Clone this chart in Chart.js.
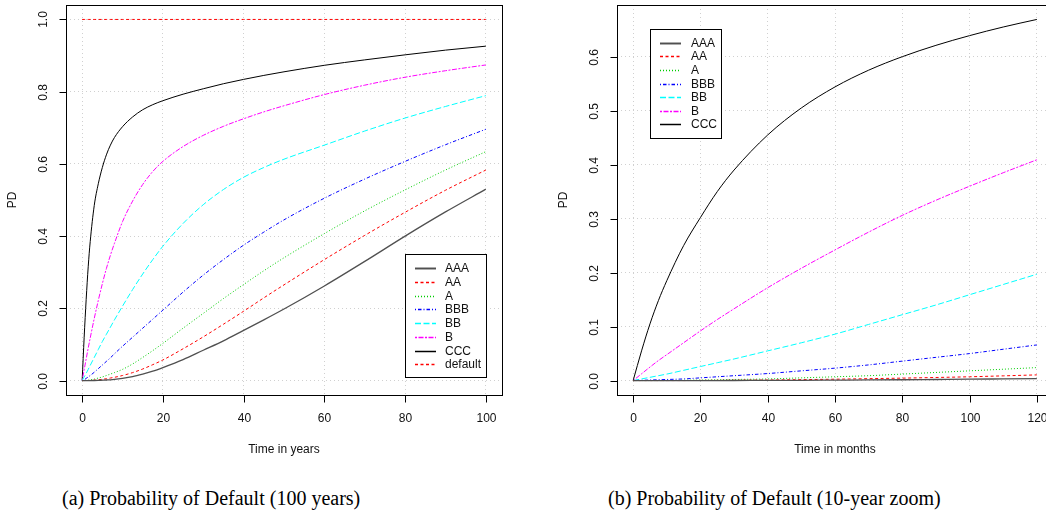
<!DOCTYPE html>
<html><head><meta charset="utf-8">
<script src="https://cdn.jsdelivr.net/npm/chart.js@4/dist/chart.umd.min.js"></script>
<style>
html,body{margin:0;padding:0;background:#fff;overflow:hidden;width:1046px;height:522px;position:relative}
canvas{position:absolute;top:0}
#c1{left:0}
#c2{left:523px}
.cap{position:absolute;top:486px;font-family:"Liberation Serif","DejaVu Serif",serif;font-size:20px;color:#000;white-space:nowrap;line-height:24px}
#capA{left:62px}
#capB{left:608px}
</style></head><body>
<canvas id="c1" width="523" height="470"></canvas>
<canvas id="c2" width="540" height="470"></canvas>
<div class="cap" id="capA">(a) Probability of Default (100 years)</div>
<div class="cap" id="capB">(b) Probability of Default (10-year zoom)</div>
<script>
// ---------- data: panel (a), time in years ----------
const yearsX = [0,0.5,1,1.5,2,3,4,5,6,7,8,10,12.5,15,17.5,20,25,30,35,40,45,50,60,70,80,90,100];
const yAAA = [0,0,0,0,0,0.0002,0.0005,0.001,0.0015,0.002,0.003,0.006,0.011,0.018,0.026,0.036,0.058,0.084,0.11,0.139,0.168,0.198,0.262,0.33,0.40,0.467,0.53];
const yAA  = [0,0,0,0.0003,0.0005,0.001,0.002,0.0035,0.005,0.007,0.009,0.014,0.022,0.032,0.044,0.057,0.088,0.121,0.156,0.192,0.229,0.265,0.335,0.402,0.466,0.527,0.583];
const yA   = [0,0,0.0005,0.001,0.002,0.004,0.007,0.01,0.014,0.018,0.022,0.031,0.046,0.064,0.083,0.103,0.145,0.186,0.227,0.266,0.304,0.34,0.407,0.47,0.528,0.583,0.634];
const yBBB = [0,0.002,0.006,0.01,0.014,0.023,0.033,0.043,0.053,0.063,0.074,0.095,0.12,0.145,0.17,0.195,0.245,0.292,0.335,0.375,0.411,0.445,0.505,0.558,0.607,0.653,0.696];
const yBB  = [0,0.01,0.02,0.031,0.042,0.064,0.086,0.108,0.128,0.148,0.168,0.206,0.252,0.295,0.335,0.372,0.435,0.487,0.529,0.563,0.59,0.613,0.652,0.691,0.727,0.759,0.789];
const yB   = [0,0.03,0.06,0.09,0.118,0.172,0.222,0.268,0.31,0.347,0.38,0.44,0.497,0.543,0.579,0.607,0.648,0.679,0.704,0.725,0.744,0.761,0.792,0.818,0.84,0.858,0.874];
const yCCC = [0,0.12,0.225,0.315,0.385,0.485,0.545,0.59,0.625,0.652,0.673,0.703,0.73,0.75,0.764,0.775,0.793,0.808,0.822,0.834,0.845,0.855,0.873,0.888,0.902,0.915,0.926];
const yDefault = [1,1,1,1,1,1,1,1,1,1,1,1,1,1,1,1,1,1,1,1,1,1,1,1,1,1,1];

// ---------- data: panel (b), time in months ----------
const monthsX = [0,2.5,5,7.5,10,15,20,25,30,40,50,60,70,80,90,100,110,120];
const mAAA = [0,0,0,0,0,0,0,0,0.0001,0.0003,0.0005,0.0008,0.0011,0.0015,0.002,0.0025,0.0031,0.0037];
const mAA  = [0,0,0,0,0,0,0.0003,0.0004,0.0006,0.001,0.0017,0.0025,0.0035,0.0045,0.0057,0.007,0.0087,0.0105];
const mA   = [0,0,0,0,0,0.0005,0.001,0.0015,0.002,0.003,0.005,0.007,0.009,0.012,0.015,0.018,0.021,0.024];
const mBBB = [0,0.0005,0.001,0.0015,0.002,0.003,0.005,0.007,0.009,0.013,0.018,0.023,0.029,0.036,0.043,0.05,0.058,0.066];
const mBB  = [0,0.003,0.006,0.009,0.012,0.019,0.026,0.033,0.04,0.055,0.07,0.086,0.104,0.122,0.14,0.159,0.178,0.197];
const mB   = [0,0.0125,0.025,0.037,0.048,0.07,0.092,0.113,0.133,0.172,0.208,0.242,0.275,0.306,0.334,0.36,0.385,0.409];
const mCCC = [0,0.055,0.105,0.148,0.185,0.25,0.302,0.35,0.39,0.455,0.505,0.544,0.575,0.60,0.621,0.639,0.655,0.669];

// ---------- labels & ticks ----------
const seriesNamesA = ["AAA","AA","A","BBB","BB","B","CCC","default"];
const seriesNamesB = ["AAA","AA","A","BBB","BB","B","CCC"];
const xTicksA = [0,20,40,60,80,100];
const yTicksA = [0,0.2,0.4,0.6,0.8,1.0];
const yTickLabelsA = ["0.0","0.2","0.4","0.6","0.8","1.0"];
const xTicksB = [0,20,40,60,80,100,120];
const yTicksB = [0,0.1,0.2,0.3,0.4,0.5,0.6];
const yTickLabelsB = ["0.0","0.1","0.2","0.3","0.4","0.5","0.6"];
const xTitleA = "Time in years";
const xTitleB = "Time in months";
const yTitle = "PD";

// ---------- styles ----------
const lineColors = ["#505050","#FF0000","#00CD00","#0000FF","#00FFFF","#FF00FF","#000000","#FF0000"];
const lineDashes = [[],[3,2.5],[1,2],[1,2,3.5,2],[6,2.5],[2,1.5,5,1.5],[],[3,2.5]];
const lineWidths = [1.3,1,1,1,1,1,1,1];
const FONT = '"Liberation Sans", Arial, Helvetica, sans-serif';

function buildDatasets(xs, series, names){
  return series.map((ys,i)=>({
    label: names[i],
    data: xs.map((x,j)=>({x:x, y:ys[j]})),
    borderColor: lineColors[i],
    borderDash: lineDashes[i],
    borderWidth: lineWidths[i],
    pointRadius: 0,
    fill: false,
    cubicInterpolationMode: 'monotone'
  }));
}

function rPlot(cfg){
  return {
    id: 'rPlot',
    afterDraw(chart){
      const ctx = chart.ctx, a = chart.chartArea, xs = chart.scales.x, ys = chart.scales.y;
      ctx.save();
      ctx.setLineDash([]);
      ctx.strokeStyle = '#000'; ctx.lineWidth = 1;
      const L = Math.round(a.left)+0.5, T = Math.round(a.top)+0.5, R = Math.round(a.right)+0.5, B = Math.round(a.bottom)+0.5;
      ctx.strokeRect(L, T, R-L, B-T);
      ctx.fillStyle = '#111';
      ctx.font = '12px ' + FONT;
      ctx.textAlign = 'center'; ctx.textBaseline = 'middle';
      cfg.xTicks.forEach((v)=>{
        const px = Math.round(xs.getPixelForValue(v))+0.5;
        ctx.beginPath(); ctx.moveTo(px, B); ctx.lineTo(px, B+7); ctx.stroke();
        ctx.fillText(String(v), px, B+23);
      });
      cfg.yTicks.forEach((v,i)=>{
        const py = Math.round(ys.getPixelForValue(v))+0.5;
        ctx.beginPath(); ctx.moveTo(L, py); ctx.lineTo(L-7, py); ctx.stroke();
        ctx.save(); ctx.translate(L-23, py); ctx.rotate(-Math.PI/2);
        ctx.fillText(cfg.yLabels[i], 0, 0); ctx.restore();
      });
      ctx.fillText(cfg.xTitle, (a.left+a.right)/2, B+54);
      ctx.save(); ctx.translate(a.left-53, (a.top+a.bottom)/2); ctx.rotate(-Math.PI/2);
      ctx.fillText(cfg.yTitle, 0, 0); ctx.restore();
      // legend
      const lg = cfg.legend;
      ctx.fillStyle = '#fff';
      ctx.fillRect(lg.x, lg.y, lg.w, lg.h);
      ctx.strokeStyle = '#000';
      ctx.strokeRect(Math.round(lg.x)+0.5, Math.round(lg.y)+0.5, lg.w, lg.h);
      ctx.textAlign = 'left';
      chart.data.datasets.forEach((ds,i)=>{
        const cy = Math.round(lg.y + lg.first + i*lg.step)+0.5;
        ctx.strokeStyle = ds.borderColor; ctx.lineWidth = Math.max(ds.borderWidth*1.5, 1.4);
        ctx.setLineDash(ds.borderDash);
        ctx.beginPath(); ctx.moveTo(lg.x+lg.lx0, cy); ctx.lineTo(lg.x+lg.lx1, cy); ctx.stroke();
        ctx.setLineDash([]);
        ctx.fillStyle = '#111';
        ctx.fillText(ds.label, lg.x+lg.tx, cy+0.5);
      });
      ctx.restore();
    }
  };
}

function makeChart(id, xs, series, names, xr, yr, pad, axcfg){
  return new Chart(document.getElementById(id), {
    type: 'line',
    data: { datasets: buildDatasets(xs, series, names) },
    options: {
      responsive: false, animation: false, devicePixelRatio: 1,
      layout: { padding: pad },
      plugins: { legend: {display:false}, tooltip: {enabled:false} },
      scales: {
        x: { type:'linear', min:xr[0], max:xr[1],
             ticks:{display:false}, grid:{color:'#d0d0d0', lineWidth:1, drawTicks:false},
             border:{display:false, dash:[1,3]},
             afterBuildTicks: s => { s.ticks = axcfg.xTicks.map(v=>({value:v})); } },
        y: { type:'linear', min:yr[0], max:yr[1],
             ticks:{display:false}, grid:{color:'#d0d0d0', lineWidth:1, drawTicks:false},
             border:{display:false, dash:[1,3]},
             afterBuildTicks: s => { s.ticks = axcfg.yTicks.map(v=>({value:v})); } }
      }
    },
    plugins: [rPlot(axcfg)]
  });
}

makeChart('c1', yearsX, [yAAA,yAA,yA,yBBB,yBB,yB,yCCC,yDefault], seriesNamesA,
  [-4,104], [-0.04,1.04], {left:66, top:5, right:21, bottom:75},
  {xTicks:xTicksA, yTicks:yTicksA, yLabels:yTickLabelsA, xTitle:xTitleA, yTitle:yTitle,
   legend:{x:405, y:254, w:81, h:123, first:14.3, step:13.7, lx0:10, lx1:31, tx:40}});

makeChart('c2', monthsX, [mAAA,mAA,mA,mBBB,mBB,mB,mCCC], seriesNamesB,
  [-4.8,124.8], [-0.02676,0.69576], {left:94, top:5, right:10, bottom:75},
  {xTicks:xTicksB, yTicks:yTicksB, yLabels:yTickLabelsB, xTitle:xTitleB, yTitle:yTitle,
   legend:{x:650-523, y:29, w:71, h:109, first:13.7, step:13.6, lx0:10, lx1:31, tx:41}});
</script>
</body></html>
